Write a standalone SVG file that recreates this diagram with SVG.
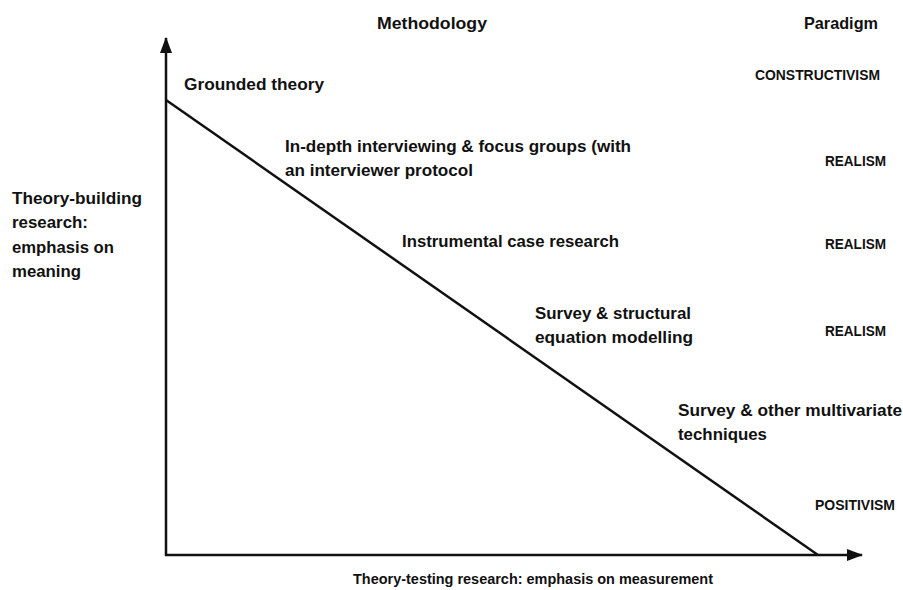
<svg xmlns="http://www.w3.org/2000/svg" width="903" height="590" viewBox="0 0 903 590">
<style>
text{font-family:"Liberation Sans",Arial,sans-serif;font-weight:bold;fill:#111}
.m{font-size:17px}
.p{font-size:14px}
.b{font-size:15px}
.ax{stroke:#111;stroke-width:2.5;fill:none}
</style>
<defs>
<marker id="ah" markerUnits="userSpaceOnUse" markerWidth="16" markerHeight="12" refX="15" refY="6" orient="auto">
<path d="M0,0 L16,6 L0,12 Z" fill="#111"/>
</marker>
</defs>
<rect width="903" height="590" fill="#fff"/>
<g id="connectors">
<line class="ax" x1="166" y1="556" x2="166" y2="38" marker-end="url(#ah)"/>
<line class="ax" x1="165" y1="555" x2="862" y2="555" marker-end="url(#ah)"/>
<line class="ax" x1="166" y1="100" x2="818" y2="555"/>
</g>
<g id="headers">
<text class="m" x="377" y="29" textLength="110" lengthAdjust="spacingAndGlyphs">Methodology</text>
<text class="m" x="804" y="29" textLength="74" lengthAdjust="spacingAndGlyphs">Paradigm</text>
</g>
<g id="grounded">
<text class="m" x="184" y="90" textLength="140" lengthAdjust="spacingAndGlyphs">Grounded theory</text>
<text class="p" x="755" y="80" textLength="125" lengthAdjust="spacingAndGlyphs">CONSTRUCTIVISM</text>
</g>
<g id="indepth">
<text class="m" x="285" y="152" textLength="346" lengthAdjust="spacingAndGlyphs">In-depth interviewing &amp; focus groups (with</text>
<text class="m" x="285" y="176" textLength="188" lengthAdjust="spacingAndGlyphs">an interviewer protocol</text>
<text class="p" x="825" y="166" textLength="61" lengthAdjust="spacingAndGlyphs">REALISM</text>
</g>
<g id="instrumental">
<text class="m" x="402" y="247" textLength="217" lengthAdjust="spacingAndGlyphs">Instrumental case research</text>
<text class="p" x="825" y="249" textLength="61" lengthAdjust="spacingAndGlyphs">REALISM</text>
</g>
<g id="sem">
<text class="m" x="535" y="319" textLength="156" lengthAdjust="spacingAndGlyphs">Survey &amp; structural</text>
<text class="m" x="535" y="343" textLength="158" lengthAdjust="spacingAndGlyphs">equation modelling</text>
<text class="p" x="825" y="336" textLength="61" lengthAdjust="spacingAndGlyphs">REALISM</text>
</g>
<g id="multivariate">
<text class="m" x="678" y="416" textLength="224" lengthAdjust="spacingAndGlyphs">Survey &amp; other multivariate</text>
<text class="m" x="678" y="440" textLength="89" lengthAdjust="spacingAndGlyphs">techniques</text>
<text class="p" x="815" y="510" textLength="80" lengthAdjust="spacingAndGlyphs">POSITIVISM</text>
</g>
<g id="yaxis-label">
<text class="m" x="12" y="204" textLength="130" lengthAdjust="spacingAndGlyphs">Theory-building</text>
<text class="m" x="12" y="228" textLength="76" lengthAdjust="spacingAndGlyphs">research:</text>
<text class="m" x="12" y="253" textLength="102" lengthAdjust="spacingAndGlyphs">emphasis on</text>
<text class="m" x="12" y="277" textLength="69" lengthAdjust="spacingAndGlyphs">meaning</text>
</g>
<g id="xaxis-label">
<text class="b" x="353" y="584" textLength="360" lengthAdjust="spacingAndGlyphs">Theory-testing research: emphasis on measurement</text>
</g>
</svg>
